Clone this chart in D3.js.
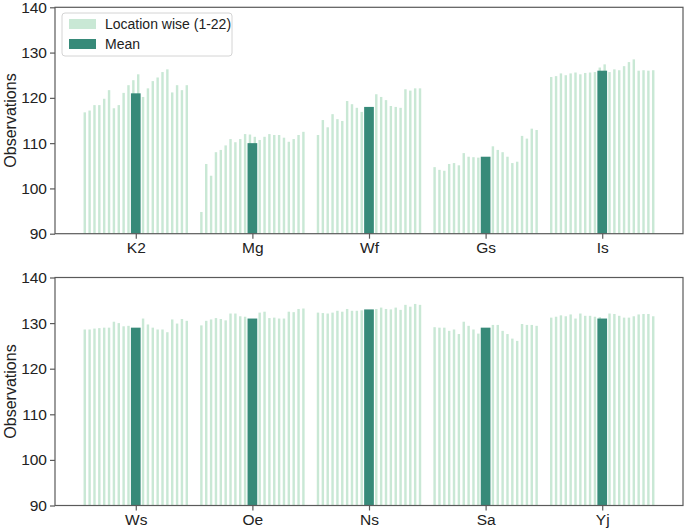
<!DOCTYPE html>
<html>
<head>
<meta charset="utf-8">
<script src="https://cdn.jsdelivr.net/npm/d3@7"></script>
<style>
  body { margin: 0; background: #fff; }
  text { font-family: "Liberation Sans", Arial, sans-serif; fill: #222; }
</style>
</head>
<body>
<div id="chart"></div>
<script>
  'use strict';

  // data
  var topCategories = ["K2", "Mg", "Wf", "Gs", "Is"];
  var bottomCategories = ["Ws", "Oe", "Ns", "Sa", "Yj"];
  var topMeans = [121, 110, 118, 107, 126];
  var bottomMeans = [129, 131, 133, 129, 131];
  var yTicks = [90, 100, 110, 120, 130, 140];

  var k2 = [116.8, 117.2, 118.4, 118.4, 119.8, 121.7, 117.7, 118.4, 121.1, 122.8, 123.9,
            125.2, 120.2, 122.1, 123.7, 124.5, 125.7, 126.3, 121.2, 122.8, 121.7, 122.8];
  var mg = [94.8, 105.4, 102.8, 108.0, 108.5, 109.5, 110.9, 110.2, 110.9, 112.0, 111.9,
            111.4, 110.7, 111.4, 112.0, 111.8, 111.8, 111.2, 110.3, 110.9, 111.8, 112.5];
  var wf = [111.8, 115.1, 113.5, 116.4, 115.3, 114.9, 119.3, 118.6, 117.8, 116.9, 117.3,
            117.6, 120.8, 120.2, 119.5, 118.2, 118.0, 117.8, 121.9, 121.6, 122.1, 122.1];
  var gs = [104.7, 104.1, 103.9, 105.4, 105.6, 105.1, 107.8, 107.0, 106.9, 106.8, 106.7,
            106.9, 109.3, 108.5, 108.0, 107.0, 105.6, 105.9, 111.6, 111.0, 113.2, 112.9];
  var is = [124.6, 124.8, 125.4, 125.0, 125.4, 125.6, 125.2, 125.5, 125.6, 125.7, 126.7,
            127.4, 125.7, 126.3, 126.1, 127.0, 127.9, 128.5, 126.0, 126.1, 126.0, 126.1];

  var ws = [128.6, 128.6, 128.8, 128.9, 129.0, 129.0, 130.3, 130.0, 129.3, 129.4, 128.7,
            128.8, 131.0, 129.7, 129.0, 128.6, 128.6, 128.0, 130.8, 129.9, 130.9, 130.5];
  var oe = [129.5, 130.5, 130.8, 131.1, 130.9, 130.6, 132.1, 132.1, 131.5, 131.4, 130.8,
            130.9, 132.3, 132.5, 131.1, 131.2, 131.0, 131.0, 132.5, 132.4, 133.1, 133.2];
  var ns = [132.3, 132.2, 132.1, 132.3, 132.7, 132.5, 133.1, 132.7, 132.7, 132.8, 132.8,
            132.9, 133.1, 133.4, 133.1, 133.0, 133.4, 132.9, 134.0, 133.6, 134.2, 134.0];
  var sa = [129.1, 129.0, 129.0, 128.3, 128.6, 127.6, 130.3, 129.4, 128.6, 127.7, 128.5,
            128.8, 129.6, 129.6, 128.3, 127.6, 126.6, 126.1, 129.8, 129.6, 129.6, 129.4];
  var yj = [131.2, 131.4, 131.7, 131.5, 131.9, 131.0, 132.1, 131.6, 131.6, 131.4, 131.3,
            130.9, 132.1, 132.0, 131.6, 131.2, 131.2, 131.5, 131.9, 132.0, 132.0, 131.5];

  var topLocations = [k2, mg, wf, gs, is];
  var bottomLocations = [ws, oe, ns, sa, yj];

  var w = 685;
  var h = 529;
  var lightColor = "#c9e8d5";
  var meanColor = "#378a79";
  var spineColor = "#5a5a5a";
  var groupStep = 24;
  var axLeft = 55;
  var axRight = 683;
  var tickFont = "15.5px";

  var svg = d3.select("#chart").append("svg")
    .attr("width", w)
    .attr("height", h);

  function styleAxis(sel) {
    sel.select(".domain").remove();
    sel.selectAll("line").attr("stroke", spineColor).attr("stroke-width", 1.2);
    sel.selectAll("text")
      .style("font-size", tickFont)
      .style("font-family", "'Liberation Sans', Arial, sans-serif")
      .attr("fill", "#222");
  }

  function drawPanel(top, bottom, categories, locations, means, showLegend) {
    var g = svg.append("g");

    var x = d3.scaleLinear()
      .domain([-6.125, 123.125])
      .range([axLeft, axRight]);
    var y = d3.scaleLinear()
      .domain([90, 140])
      .range([bottom, top]);

    var unit = x(1) - x(0);

    locations.forEach(function (vals, gi) {
      g.selectAll(null)
        .data(vals)
        .enter()
        .append("rect")
        .attr("x", function (d, i) { return x(gi * groupStep + i - 0.25); })
        .attr("width", unit * 0.5)
        .attr("y", function (d) { return y(d); })
        .attr("height", function (d) { return y(90) - y(d); })
        .attr("fill", lightColor);
    });

    g.selectAll("rect.mean")
      .data(means)
      .enter()
      .append("rect")
      .attr("class", "mean")
      .attr("x", function (d, i) { return x(i * groupStep + 10.5 - 1); })
      .attr("width", unit * 2)
      .attr("y", function (d) { return y(d); })
      .attr("height", function (d) { return y(90) - y(d); })
      .attr("fill", meanColor);

    // y axis
    var ya = g.append("g")
      .attr("transform", "translate(" + axLeft + ",0)")
      .call(d3.axisLeft(y).tickValues(yTicks).tickSize(5).tickPadding(3));
    styleAxis(ya);

    // x axis, ticks at the mean bars
    var xa = g.append("g")
      .attr("transform", "translate(0," + bottom + ")")
      .call(d3.axisBottom(x)
        .tickValues(categories.map(function (c, i) { return i * groupStep + 10.5; }))
        .tickFormat(function (d, i) { return categories[i]; })
        .tickSize(5)
        .tickPadding(3));
    styleAxis(xa);

    // spines
    g.append("rect")
      .attr("x", axLeft)
      .attr("y", top)
      .attr("width", axRight - axLeft)
      .attr("height", bottom - top)
      .attr("fill", "none")
      .attr("stroke", spineColor)
      .attr("stroke-width", 1.2);

    g.append("text")
      .attr("transform", "translate(16," + ((top + bottom) / 2) + ") rotate(-90)")
      .attr("text-anchor", "middle")
      .style("font-size", "16px")
      .text("Observations");

    if (showLegend) {
      var legend = g.append("g").attr("transform", "translate(62,13)");
      legend.append("rect")
        .attr("width", 170)
        .attr("height", 43)
        .attr("rx", 3)
        .attr("fill", "#fff")
        .attr("fill-opacity", 0.85)
        .attr("stroke", "#d4d4d4");
      var items = [["Location wise (1-22)", lightColor], ["Mean", meanColor]];
      items.forEach(function (it, i) {
        legend.append("rect")
          .attr("x", 7)
          .attr("y", 6 + i * 20)
          .attr("width", 27)
          .attr("height", 10)
          .attr("fill", it[1]);
        legend.append("text")
          .attr("x", 43)
          .attr("y", 16 + i * 20)
          .style("font-size", "14px")
          .text(it[0]);
      });
    }
  }

  drawPanel(7.3, 233.7, topCategories, topLocations, topMeans, true);
  drawPanel(277.5, 505.5, bottomCategories, bottomLocations, bottomMeans, false);
</script>
</body>
</html>
